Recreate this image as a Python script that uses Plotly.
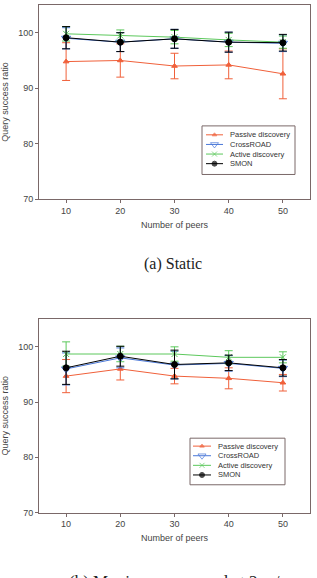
import plotly.graph_objects as go

peers = [10, 20, 30, 40, 50]
series_names = ["Passive discovery", "CrossROAD", "Active discovery", "SMON"]

# (a) Static
static_passive = [94.8, 95.0, 94.0, 94.2, 92.6]
static_passive_err = [3.4, 3.0, 2.3, 2.5, 4.5]
static_crossroad = [99.0, 98.3, 98.9, 98.3, 98.1]
static_crossroad_err = [1.9, 1.7, 1.7, 1.8, 1.5]
static_active = [99.8, 99.5, 99.2, 98.7, 98.3]
static_active_err = [1.3, 1.0, 1.2, 1.2, 1.1]
static_smon = [99.1, 98.3, 98.9, 98.3, 98.2]
static_smon_err = [2.0, 1.7, 1.7, 1.8, 1.5]

# (b) Moving
moving_passive = [94.7, 96.0, 94.7, 94.3, 93.5]
moving_passive_err = [3.0, 2.0, 1.4, 1.9, 1.5]
moving_crossroad = [96.0, 98.0, 96.7, 97.0, 96.1]
moving_crossroad_err = [2.9, 1.8, 2.5, 1.4, 1.5]
moving_active = [98.7, 98.7, 98.7, 98.1, 98.1]
moving_active_err = [2.2, 1.4, 1.3, 1.2, 1.0]
moving_smon = [96.2, 98.3, 96.8, 97.1, 96.2]
moving_smon_err = [3.0, 1.8, 2.6, 1.4, 1.5]

colors = ["#f0603a", "#4a78d8", "#5cc85c", "#000000"]
symbols = ["triangle-up", "triangle-down-open", "x-thin-open", "circle"]
msizes = [5, 8, 6, 6]

W, H = 317, 578
axcol = "#7a6868"
sans = "Liberation Sans, Arial, sans-serif"

fig = go.Figure()


def add_panel(vals, errs, xa, ya):
    for i, name in enumerate(series_names):
        fig.add_trace(go.Scatter(
            x=peers, y=vals[i], name=name, mode="lines+markers",
            line=dict(color=colors[i], width=1),
            marker=dict(symbol=symbols[i], size=msizes[i], color=colors[i],
                        line=dict(color=colors[i], width=1)),
            error_y=dict(type="data", array=errs[i], visible=True,
                         color=colors[i], thickness=1, width=4),
            xaxis=xa, yaxis=ya, showlegend=False,
        ))


add_panel([static_passive, static_crossroad, static_active, static_smon],
          [static_passive_err, static_crossroad_err, static_active_err, static_smon_err],
          "x", "y")
add_panel([moving_passive, moving_crossroad, moving_active, moving_smon],
          [moving_passive_err, moving_crossroad_err, moving_active_err, moving_smon_err],
          "x2", "y2")

# Compact legends (boxes in pixel space on a hidden full-page axis)
legend_boxes = [  # x0, x1, y0, y1, first row y, row step, line x0, line x1, text x
    (202, 295, 127, 176, 136, 9.7, 206, 223, 228),
    (190, 285, 442, 489, 450, 9.7, 193, 211, 216),
]
shapes = []
annotations = []
for (bx0, bx1, by0, by1, ry, rstep, lx0, lx1, tx) in legend_boxes:
    shapes.append(dict(type="rect", xref="x3", yref="y3", x0=bx0, x1=bx1, y0=by0, y1=by1,
                       line=dict(color=axcol, width=1), fillcolor="white", layer="below"))
    for i, name in enumerate(series_names):
        yy = ry + i * rstep
        fig.add_trace(go.Scatter(
            x=[lx0, (lx0 + lx1) / 2, lx1], y=[yy, yy, yy], mode="lines+markers",
            line=dict(color=colors[i], width=1),
            marker=dict(symbol=symbols[i], size=[0, msizes[i] - 1, 0], color=colors[i],
                        line=dict(color=colors[i], width=1)),
            xaxis="x3", yaxis="y3", showlegend=False, hoverinfo="skip",
        ))
        annotations.append(dict(text=name, xref="x3", yref="y3", x=tx, y=yy,
                                xanchor="left", yanchor="middle", showarrow=False,
                                font=dict(family=sans, size=7.5, color="#333")))

tickfont = dict(family=sans, size=9, color="#444")
xcommon = dict(range=[5, 55], tickvals=peers, ticks="outside", ticklen=3, tickcolor=axcol,
               showline=True, linecolor=axcol, linewidth=1, mirror=True, showgrid=False,
               zeroline=False, tickfont=tickfont,
               title=dict(text="Number of peers", font=tickfont, standoff=6))
ycommon = dict(range=[70, 105], tickvals=[70, 80, 90, 100], ticks="outside", ticklen=3,
               tickcolor=axcol, showline=True, linecolor=axcol, linewidth=1, mirror=True,
               showgrid=False, zeroline=False, tickfont=tickfont,
               title=dict(text="Query success ratio", font=tickfont, standoff=8))

annotations += [
    dict(text="(a) Static", xref="paper", yref="paper", x=173 / W, y=1 - 266 / H,
         xanchor="center", yanchor="middle", showarrow=False,
         font=dict(family="Liberation Serif, DejaVu Serif, serif", size=16, color="#222")),
    dict(text="(b) Moving: max speed at 2 m/s", xref="paper", yref="paper",
         x=178 / W, y=1 - 587 / H,
         xanchor="center", yanchor="middle", showarrow=False,
         font=dict(family="Liberation Serif, DejaVu Serif, serif", size=17, color="#222")),
]

xd = [39 / W, 310 / W]
fig.update_layout(
    width=W, height=H,
    margin=dict(l=0, r=0, t=0, b=0),
    paper_bgcolor="white", plot_bgcolor="rgba(0,0,0,0)",
    xaxis=dict(domain=xd, anchor="y", **xcommon),
    yaxis=dict(domain=[1 - 201 / H, 1 - 5 / H], anchor="x", **ycommon),
    xaxis2=dict(domain=xd, anchor="y2", **xcommon),
    yaxis2=dict(domain=[1 - 517 / H, 1 - 322 / H], anchor="x2", **ycommon),
    xaxis3=dict(domain=[0, 1], range=[0, W], visible=False, fixedrange=True, anchor="y3"),
    yaxis3=dict(domain=[0, 1], range=[H, 0], visible=False, fixedrange=True, anchor="x3"),
    showlegend=False,
    shapes=shapes,
    annotations=annotations,
)

fig.write_html("out.html")
